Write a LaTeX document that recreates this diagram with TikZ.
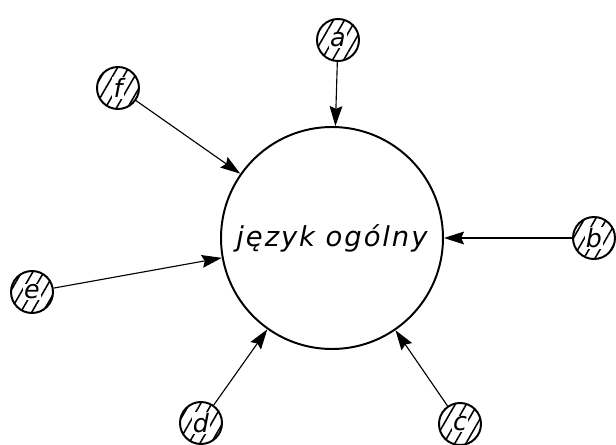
\documentclass[tikz,border=0pt]{standalone}
\usepackage{fontspec}
\newfontfamily\letterfont[LetterSpace=7]{DejaVu Sans}
\newfontfamily\tagfont{DejaVu Sans}
\usetikzlibrary{arrows.meta,patterns.meta}

\begin{document}
\begin{tikzpicture}[
    tag/.style={circle,draw,line width=1.4pt,minimum size=1.05cm,inner sep=0pt,
      pattern={Lines[angle=60,distance=2.4mm,line width=1.1pt]},
      label={[fill=white,inner sep=0.8pt,font=\tagfont\itshape\fontsize{18}{18}\selectfont]center:#1}},
    feed/.style={line width=0.8pt,-{Stealth[length=5mm,width=3.2mm,inset=0.7mm]}}
  ]
    \useasboundingbox (0,0) rectangle (15.4,11.1);
    \node(main) at (8.3,5.15) [circle,draw,line width=1.4pt,minimum size=5.55cm,inner sep=0pt]
       {\letterfont\itshape\fontsize{19.5}{20}\selectfont język ogólny};
    \node[tag=a](a) at (8.45,10.1) {};
    \node[tag=b](b) at (14.85,5.15) {};
    \node[tag=c](c) at (11.5,0.5) {};
    \node[tag=d](d) at (5.025,0.525) {};
    \node[tag=e](e) at (0.8,3.8) {};
    \node[tag=f](f) at (2.95,8.9) {};
    \foreach \n in {a,b,c,d,e,f}
      \draw[feed] (\n) -- (main);
  \end{tikzpicture}
\end{document}
